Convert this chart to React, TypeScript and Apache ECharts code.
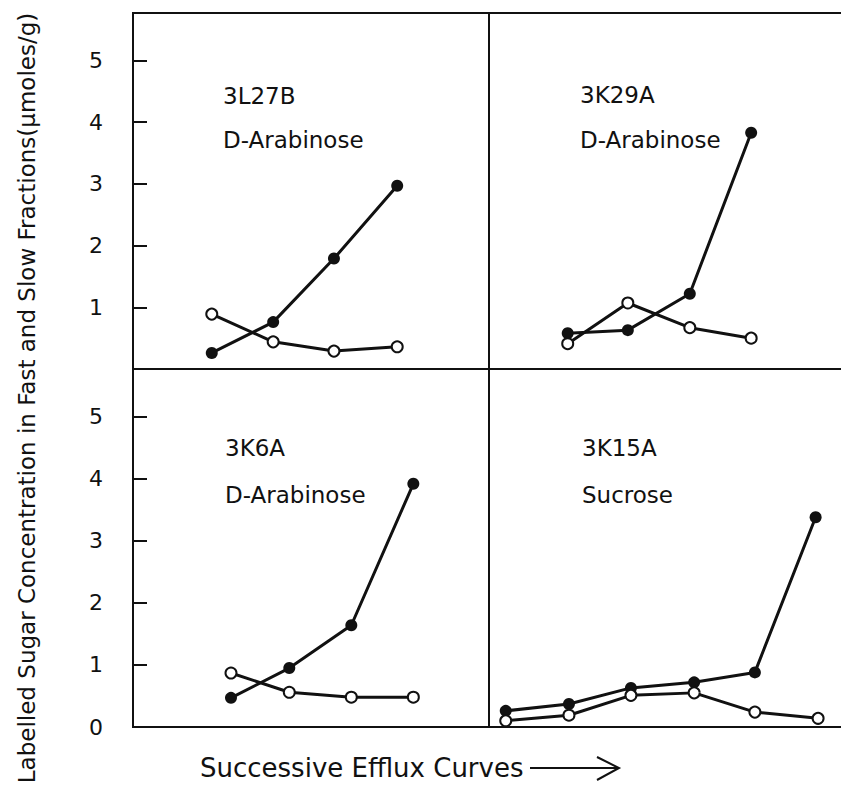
import React, { useEffect, useRef } from "react";
import * as echarts from "echarts";

// Curve positions (in units of one efflux-curve spacing from each panel's left edge)
const tlX = [1.27, 2.26, 3.24, 4.26];
const tlFast = [0.26, 0.76, 1.79, 2.97];
const tlSlow = [0.89, 0.44, 0.29, 0.36];

const trX = [1.27, 2.24, 3.24, 4.23];
const trFast = [0.58, 0.63, 1.22, 3.83];
const trSlow = [0.41, 1.07, 0.67, 0.5];

const blX = [1.58, 2.52, 3.52, 4.52];
const blFast = [0.47, 0.95, 1.64, 3.92];
const blSlow = [0.87, 0.56, 0.48, 0.48];

const brXFast = [0.27, 1.29, 2.29, 3.31, 4.29, 5.27];
const brXSlow = [0.27, 1.29, 2.29, 3.31, 4.29, 5.31];
const brFast = [0.26, 0.37, 0.63, 0.72, 0.88, 3.38];
const brSlow = [0.1, 0.19, 0.51, 0.55, 0.24, 0.14];

const panelIds = ["3L27B", "3K29A", "3K6A", "3K15A"];
const panelSugars = ["D-Arabinose", "D-Arabinose", "D-Arabinose", "Sucrose"];
const yTitle = "Labelled Sugar Concentration in Fast and Slow Fractions(\u03bcmoles/g)";
const xTitle = "Successive Efflux Curves";

const INK = "#111";
const FONT = "DejaVu Sans";

function pairs(xs: number[], ys: number[]) {
  return xs.map((x, i) => [x, ys[i]]);
}

export default function App() {
  const ref = useRef<HTMLDivElement>(null);
  useEffect(() => {
    document.body.style.margin = "0";
    if (!ref.current) return;
    const chart = echarts.init(ref.current, null, { renderer: "svg" });

    const grids = [
      { left: 133, top: 13, width: 356, height: 356 },
      { left: 489, top: 13, width: 370, height: 356 },
      { left: 133, top: 369, width: 356, height: 358 },
      { left: 489, top: 369, width: 370, height: 358 },
    ].map((g) => ({
      ...g,
      show: true,
      borderColor: INK,
      borderWidth: 2,
      backgroundColor: "transparent",
      containLabel: false,
      outerBoundsMode: "none",
    }));

    const xMax = [5.74, 5.97, 5.74, 5.97];
    const xAxes = xMax.map((m, i) => ({
      type: "value",
      gridIndex: i,
      min: 0,
      max: m,
      axisLine: { show: false },
      axisTick: { show: false },
      axisLabel: { show: false },
      splitLine: { show: false },
    }));

    const yAxes = [0, 1, 2, 3].map((i) => {
      const isLeft = i === 0 || i === 2;
      return {
        type: "value",
        gridIndex: i,
        min: 0,
        max: 5.77,
        interval: 1,
        axisLine: { show: false },
        splitLine: { show: false },
        axisTick: {
          show: isLeft,
          inside: true,
          length: 14,
          lineStyle: { color: INK, width: 2 },
        },
        axisLabel: {
          show: isLeft,
          showMinLabel: i === 2,
          showMaxLabel: false,
          margin: 30,
          color: INK,
          fontSize: 22,
          fontFamily: FONT,
        },
      };
    });

    const fast = (xs: number[], ys: number[], idx: number) => ({
      type: "line",
      xAxisIndex: idx,
      yAxisIndex: idx,
      data: pairs(xs, ys),
      symbol: "circle",
      symbolSize: 12,
      itemStyle: { color: INK },
      lineStyle: { color: INK, width: 3 },
      z: 3,
    });
    const slow = (xs: number[], ys: number[], idx: number) => ({
      type: "line",
      xAxisIndex: idx,
      yAxisIndex: idx,
      data: pairs(xs, ys),
      symbol: "circle",
      symbolSize: 11,
      showAllSymbol: true,
      itemStyle: { color: "#fff", borderColor: INK, borderWidth: 2 },
      lineStyle: { color: INK, width: 3 },
      z: 4,
    });

    const labelPos = [
      [223, 98, 142],
      [580, 97, 142],
      [225, 450, 497],
      [582, 450, 497],
    ];
    const labelTexts: any[] = [];
    labelPos.forEach((p, i) => {
      labelTexts.push({
        type: "text",
        left: p[0],
        top: p[1] - 14,
        style: { text: panelIds[i], fill: INK, font: `23px "${FONT}"` },
      });
      labelTexts.push({
        type: "text",
        left: p[0],
        top: p[2] - 14,
        style: { text: panelSugars[i], fill: INK, font: `23px "${FONT}"` },
      });
    });

    chart.setOption({
      animation: false,
      backgroundColor: "#fff",
      grid: grids,
      xAxis: xAxes,
      yAxis: yAxes,
      series: [
        fast(tlX, tlFast, 0),
        slow(tlX, tlSlow, 0),
        fast(trX, trFast, 1),
        slow(trX, trSlow, 1),
        fast(blX, blFast, 2),
        slow(blX, blSlow, 2),
        fast(brXFast, brFast, 3),
        slow(brXSlow, brSlow, 3),
      ],
      graphic: [
        ...labelTexts,
        {
          type: "text",
          x: 27,
          y: 398,
          rotation: Math.PI / 2,
          style: {
            text: yTitle,
            fill: INK,
            font: `23px "${FONT}"`,
            align: "center",
            verticalAlign: "middle",
          },
        },
        {
          type: "text",
          x: 200,
          y: 768,
          style: {
            text: xTitle,
            fill: INK,
            font: `26px "${FONT}"`,
            align: "left",
            verticalAlign: "middle",
          },
        },
        {
          type: "line",
          shape: { x1: 530, y1: 768, x2: 618, y2: 768 },
          style: { stroke: INK, lineWidth: 2 },
        },
        {
          type: "polyline",
          shape: { points: [[597, 757], [619, 768], [597, 780]] },
          style: { stroke: INK, lineWidth: 2, fill: null },
        },
      ],
    });
    return () => chart.dispose();
  }, []);
  return <div ref={ref} style={{ width: 841, height: 786 }} />;
}
